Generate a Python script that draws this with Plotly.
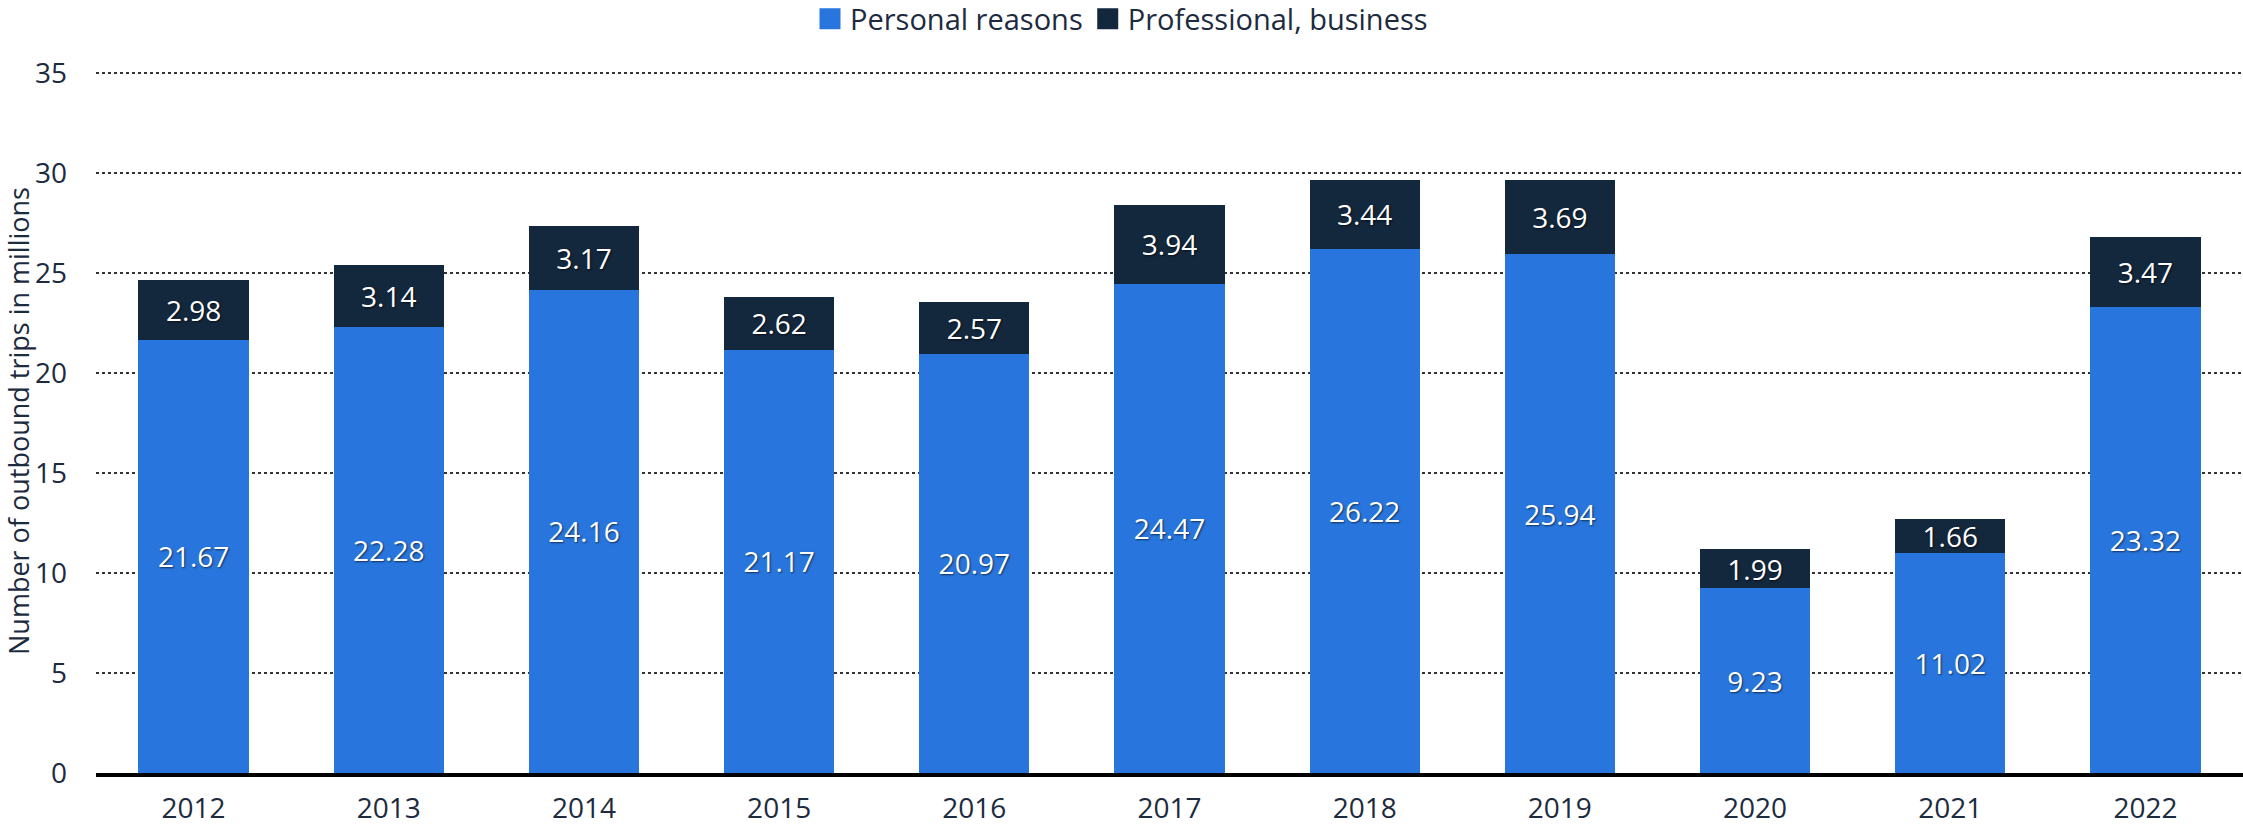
import plotly.graph_objects as go

years = ["2012", "2013", "2014", "2015", "2016", "2017", "2018", "2019", "2020", "2021", "2022"]
personal = [21.67, 22.28, 24.16, 21.17, 20.97, 24.47, 26.22, 25.94, 9.23, 11.02, 23.32]
professional = [2.98, 3.14, 3.17, 2.62, 2.57, 3.94, 3.44, 3.69, 1.99, 1.66, 3.47]

FONT = "Open Sans"
TXT = "#1c2b40"
C_PERS = "#2876dd"
C_PROF = "#13273d"
SHADOW = "1px 1px 2px rgba(0,0,0,0.6)"

fig = go.Figure()
fig.add_trace(go.Bar(
    x=years, y=personal, name="Personal reasons", showlegend=False,
    marker=dict(color=C_PERS, line=dict(width=0)),
    text=[f"{v:.2f}" for v in personal], textposition="inside",
    insidetextanchor="middle", constraintext="none",
    textfont=dict(family=FONT, size=28, color="white", shadow=SHADOW),
))
fig.add_trace(go.Bar(
    x=years, y=professional, name="Professional, business", showlegend=False,
    marker=dict(color=C_PROF, line=dict(width=0)),
    text=[f"{v:.2f}" for v in professional], textposition="inside",
    insidetextanchor="middle", constraintext="none",
    textfont=dict(family=FONT, size=28, color="white", shadow=SHADOW),
))
# legend entries (square swatches)
for nm, col in [("Personal reasons", C_PERS), ("Professional, business", C_PROF)]:
    fig.add_trace(go.Scatter(x=[None], y=[None], mode="markers", name=nm,
                             marker=dict(symbol="square", size=16, color=col,
                                         line=dict(color=col, width=5))))

fig.update_layout(
    barmode="stack",
    bargap=0.435,
    width=2243, height=826,
    margin=dict(l=96, r=0, t=69, b=53, autoexpand=False),
    paper_bgcolor="white", plot_bgcolor="white",
    font=dict(family=FONT, size=28, color=TXT),
    legend=dict(orientation="h", xref="container", x=0.5, xanchor="center",
                yref="container", y=0.977, yanchor="middle",
                font=dict(size=29, color=TXT),
                traceorder="normal", itemwidth=30, tracegroupgap=0),
    xaxis=dict(range=[-0.5, 10.5], showgrid=False, showline=True, linecolor="black",
               linewidth=4, ticks="", tickfont=dict(size=28, color=TXT), ticklabelstandoff=7),
    yaxis=dict(range=[0, 35.2], tickvals=[0, 5, 10, 15, 20, 25, 30, 35],
               showgrid=True, gridcolor="#333333", griddash="dot",
               gridwidth=1.5, zeroline=False, tickfont=dict(size=28, color=TXT),
               ticklabelstandoff=28,
               title=dict(text="Number of outbound trips in millions", font=dict(size=27, color=TXT),
                          standoff=3)),
)

fig.write_html("out.html", config={"displayModeBar": False},
               post_script="document.body.style.margin='0';document.body.style.overflow='hidden';")
